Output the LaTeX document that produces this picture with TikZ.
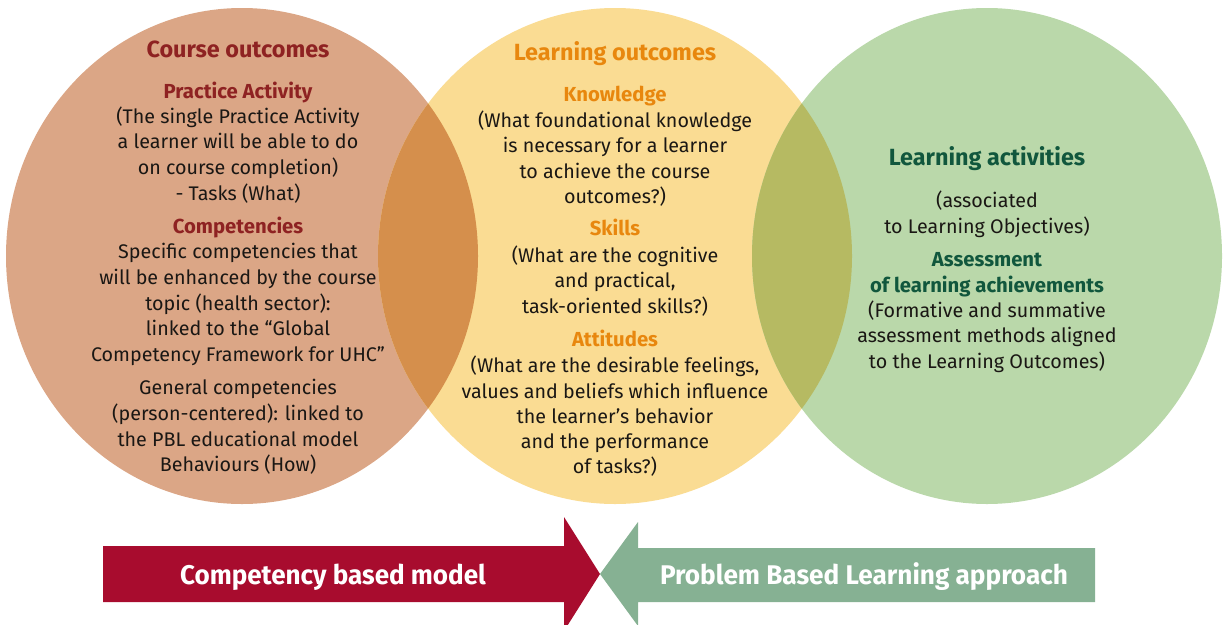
\documentclass[tikz,border=0pt]{standalone}
\usepackage{fontspec}
\setmainfont{Fira Sans}
\usepackage{graphicx}
\definecolor{cpink}{RGB}{219,166,134}
\definecolor{cyel}{RGB}{250,220,147}
\definecolor{cgreen}{RGB}{186,216,170}
\definecolor{cpy}{RGB}{213,143,76}
\definecolor{cyg}{RGB}{182,186,98}
\definecolor{tred}{RGB}{142,34,34}
\definecolor{torange}{RGB}{232,135,14}
\definecolor{tgreen}{RGB}{17,87,61}
\definecolor{tbody}{RGB}{26,23,20}
\definecolor{ared}{RGB}{168,12,46}
\definecolor{agreen}{RGB}{134,177,147}
\tikzset{
  body/.style={font=\fontsize{19.7}{22}\selectfont, text=tbody, anchor=base, inner sep=0pt},
  hd/.style={font=\fontsize{20.3}{22}\selectfont\bfseries, anchor=base, inner sep=0pt},
  ttl/.style={font=\fontsize{23.4}{26}\selectfont\bfseries, anchor=base, inner sep=0pt},
  arrtxt/.style={font=\fontsize{27}{30}\selectfont\bfseries, text=white, anchor=base, inner sep=0pt},
}
\begin{document}
\begin{tikzpicture}[x=1pt,y=-1pt]
\useasboundingbox (0,0) rectangle (1223,624);
\clip (0,0) rectangle (1223,624);
% circles
\fill[cpink] (242,256) ellipse [x radius=236, y radius=248];
\fill[cyel] (615,256) ellipse [x radius=237, y radius=248];
\fill[cgreen] (987,256) ellipse [x radius=235, y radius=248];
\begin{scope}
  \clip (242,256) ellipse [x radius=236, y radius=248];
  \fill[cpy] (615,256) ellipse [x radius=237, y radius=248];
\end{scope}
\begin{scope}
  \clip (615,256) ellipse [x radius=237, y radius=248];
  \fill[cyg] (987,256) ellipse [x radius=235, y radius=248];
\end{scope}
% left texts
\node[ttl, text=tred] (co) at (238,57) {Course outcomes};
\node[hd, text=tred] (pa) at (238,98) {Practice Activity};
\node[body] (l1) at (238,123) {(The single Practice Activity};
\node[body] (l2) at (238,148.5) {a learner will be able to do};
\node[body] (l3) at (238,174) {on course completion)};
\node[body] (l4) at (238,200) {- Tasks (What)};
\node[hd, text=tred] (cp) at (238,233) {Competencies};
\node[body] (l5) at (238,258) {Specific competencies that};
\node[body] (l6) at (238,284) {will be enhanced by the course};
\node[body] (l7) at (238,310) {topic (health sector):};
\node[body] (l8) at (238,335.5) {linked to the “Global};
\node[body] (l9) at (238,361) {Competency Framework for UHC”};
\node[body] (l10) at (238,394) {General competencies};
\node[body] (l11) at (238,420) {(person-centered): linked to};
\node[body] (l12) at (238,446) {the PBL educational model};
\node[body] (l13) at (238,471) {Behaviours (How)};
% middle texts
\node[ttl, text=torange] (lo) at (615,60) {Learning outcomes};
\node[hd, text=torange] (kn) at (615,101) {Knowledge};
\node[body] (m1) at (615,127) {(What foundational knowledge};
\node[body] (m2) at (615,152) {is necessary for a learner};
\node[body] (m3) at (615,178) {to achieve the course};
\node[body] (m4) at (615,203) {outcomes?)};
\node[hd, text=torange] (sk) at (615,235) {Skills};
\node[body] (m5) at (615,262) {(What are the cognitive};
\node[body] (m6) at (615,287) {and practical,};
\node[body] (m7) at (615,313) {task-oriented skills?)};
\node[hd, text=torange] (at) at (615,346) {Attitudes};
\node[body] (m8) at (615,372) {(What are the desirable feelings,};
\node[body] (m9) at (615,398) {values and beliefs which influence};
\node[body] (m10) at (615,423) {the learner’s behavior};
\node[body] (m11) at (615,448) {and the performance};
\node[body] (m12) at (615,473) {of tasks?)};
% right texts
\node[ttl, text=tgreen] (la) at (987,165) {Learning activities};
\node[body] (r1) at (987,207) {(associated};
\node[body] (r2) at (987,233) {to Learning Objectives)};
\node[hd, text=tgreen] (as1) at (987,266) {Assessment};
\node[hd, text=tgreen] (as2) at (987,292) {of learning achievements};
\node[body] (r3) at (987,317) {(Formative and summative};
\node[body] (r4) at (987,342) {assessment methods aligned};
\node[body] (r5) at (987,368) {to the Learning Outcomes)};
% arrows
\fill[ared] (103,546) -- (564,546) -- (564,517) -- (600,574) -- (564,631) -- (564,602) -- (103,602) -- cycle;
\fill[agreen] (1095,548) -- (638,548) -- (638,522) -- (600,574) -- (638,626) -- (638,602) -- (1095,602) -- cycle;
\node[arrtxt] (cbm) at (333,584) {\scalebox{0.965}[1]{Competency based model}};
\node[arrtxt] (pbl) at (864,584) {\scalebox{0.97}[1]{Problem Based Learning approach}};
\end{tikzpicture}
\end{document}
